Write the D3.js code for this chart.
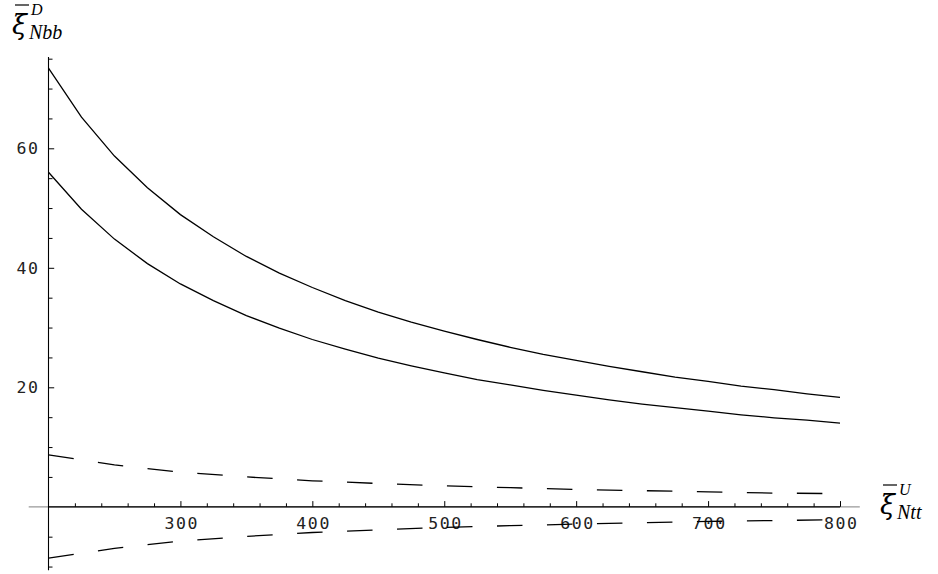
<!DOCTYPE html>
<html><head><meta charset="utf-8">
<script src="https://cdn.jsdelivr.net/npm/d3@7"></script>
<style>body{margin:0;background:#fff}svg{display:block}</style>
</head><body>
<script>
const xSolid = [200,225,250,275,300,325,350,375,400,425,450,475,500,525,550,575,600,625,650,675,700,725,750,775,800];
const upperSolid = [73.4,65.2,58.7,53.4,48.9,45.2,41.9,39.1,36.7,34.5,32.6,30.9,29.4,28.0,26.7,25.5,24.5,23.5,22.6,21.7,21.0,20.2,19.6,18.9,18.3];
const lowerSolid = [56.0,49.8,44.8,40.7,37.3,34.5,32.0,29.9,28.0,26.4,24.9,23.6,22.4,21.3,20.4,19.5,18.7,17.9,17.2,16.6,16.0,15.4,14.9,14.5,14.0];
const xDash = [200,250,300,350,400,450,500,550,600,650,700,750,800];
const upperDash = [8.7,7.0,5.8,5.0,4.35,3.9,3.5,3.2,2.9,2.7,2.5,2.3,2.2];
const lowerDash = [-8.6,-6.95,-5.75,-4.95,-4.3,-3.85,-3.45,-3.15,-2.9,-2.65,-2.45,-2.3,-2.15];
const xTickLabels = [300,400,500,600,700,800];
const yTickLabels = [20,40,60];

const W = 938, H = 574;
const svg = d3.select("body").append("svg").attr("width", W).attr("height", H);
const x = d3.scaleLinear().domain([200, 800]).range([48.5, 840]);
const y = d3.scaleLinear().domain([0, 60]).range([506.8, 148.3]);

const g = svg.append("g");
// axis lines
g.append("line").attr("x1", x(185)).attr("x2", x(815)).attr("y1", y(0)).attr("y2", y(0))
  .attr("stroke", "#999").attr("stroke-width", 1.3);
g.append("line").attr("x1", x(200)).attr("x2", x(800)).attr("y1", y(0)).attr("y2", y(0))
  .attr("stroke", "#000").attr("stroke-width", 1.3);
g.append("line").attr("x1", x(200)).attr("x2", x(200)).attr("y1", y(75.3)).attr("y2", y(-10.6))
  .attr("stroke", "#000").attr("stroke-width", 1.1);

// x ticks
const xMinor = d3.range(220, 801, 20).filter(v => v % 100 !== 0);
const xMinorAxis = d3.axisBottom(x).tickValues(xMinor).tickSize(-3.5).tickFormat("");
const xMajorAxis = d3.axisBottom(x).tickValues(xTickLabels).tickSize(-5.7).tickPadding(10).tickFormat(d3.format("d"));
const gxm = svg.append("g").attr("transform", `translate(0,${y(0)})`).call(xMinorAxis);
const gxM = svg.append("g").attr("transform", `translate(0,${y(0)})`).call(xMajorAxis);
[gxm, gxM].forEach(s => { s.select(".domain").remove(); s.selectAll("line").attr("stroke", "#000"); });
gxM.selectAll("text").attr("font-family", "DejaVu Sans Mono").attr("font-size", 16.5)
  .attr("letter-spacing", "1.6px").attr("fill", "#222").attr("dx", "0.8px");

// y ticks
const yMinor = d3.range(-10, 76, 5).filter(v => v % 20 !== 0);
const yMajor = [20, 40, 60];
const yMinorAxis = d3.axisRight(y).tickValues(yMinor).tickSize(4).tickFormat("");
const yMajorAxis = d3.axisLeft(y).tickValues(yTickLabels).tickSize(0).tickPadding(9).tickFormat(d3.format("d"));
const yMajorTicks = d3.axisRight(y).tickValues(yMajor).tickSize(5.7).tickFormat("");
const gym = svg.append("g").attr("transform", `translate(${x(200)},0)`).call(yMinorAxis);
const gyT = svg.append("g").attr("transform", `translate(${x(200)},0)`).call(yMajorTicks);
const gyM = svg.append("g").attr("transform", `translate(${x(200)},0)`).call(yMajorAxis);
[gym, gyT, gyM].forEach(s => { s.select(".domain").remove(); s.selectAll("line").attr("stroke", "#000"); });
gyM.selectAll("text").attr("font-family", "DejaVu Sans Mono").attr("font-size", 16.5)
  .attr("letter-spacing", "1.6px").attr("fill", "#222");

// curves
const line = d3.line().x(d => x(d[0])).y(d => y(d[1]));
function draw(xs, ys, dash) {
  svg.append("path").datum(xs.map((v, i) => [v, ys[i]])).attr("d", line)
    .attr("fill", "none").attr("stroke", "#000").attr("stroke-width", 1.3)
    .attr("stroke-dasharray", dash ? "25.5,24.5" : null);
}
draw(xSolid, upperSolid, false);
draw(xSolid, lowerSolid, false);
draw(xDash, upperDash, true);
draw(xDash, lowerDash, true);

// axis labels
function label(px, py, sup, sub) {
  const t = svg.append("g").attr("transform", `translate(${px},${py})`);
  t.append("text").attr("x", 0).attr("y", 0).attr("font-family", "DejaVu Serif")
    .attr("font-style", "italic").attr("font-size", 27).attr("fill", "#000").text("ξ");
  t.append("line").attr("x1", 3).attr("x2", 17).attr("y1", -29).attr("y2", -29)
    .attr("stroke", "#000").attr("stroke-width", 1.2);
  t.append("text").attr("x", 19).attr("y", -19).attr("font-family", "Liberation Serif")
    .attr("font-style", "italic").attr("font-size", 16).attr("fill", "#000").text(sup);
  t.append("text").attr("x", 17).attr("y", 5).attr("font-family", "Liberation Serif")
    .attr("font-style", "italic").attr("font-size", 20).attr("fill", "#000").text(sub);
}
label(12, 34, "D", "Nbb");
label(880, 514, "U", "Ntt");
</script>
</body></html>
